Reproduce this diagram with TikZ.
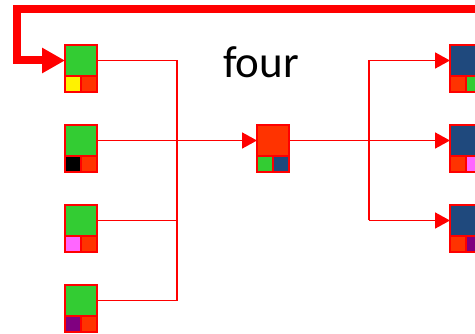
\documentclass[tikz,border=0pt]{standalone}
\usepackage{fontspec}
\setmainfont{Carlito}
\usetikzlibrary{arrows.meta}
\definecolor{cgreen}{HTML}{33CC33}
\definecolor{corange}{HTML}{FF3300}
\definecolor{cnavy}{HTML}{1F497D}
\definecolor{cpink}{HTML}{FF66FF}
\definecolor{cpurple}{HTML}{800080}
\definecolor{cred}{HTML}{FF0000}
\tikzset{
  bigbox/.style={draw=cred, line width=2pt, minimum width=32pt, minimum height=31pt, inner sep=0pt, outer sep=0pt},
  smallbox/.style={draw=cred, line width=2pt, minimum width=16pt, minimum height=16pt, inner sep=0pt, outer sep=0pt},
  wire/.style={draw=cred, line width=1.8pt},
  arr/.style={-{Triangle[length=15pt,width=16pt]}},
  feedback/.style={draw=cred, line width=8pt, -{Triangle[length=23pt,width=24pt]}},
  lbl/.style={font=\fontsize{45}{52}\selectfont, inner sep=0pt, anchor=base}
}
\newcommand\blk[6]{%
  \node[bigbox, fill=#4] (#1) at (#2+16, #3+15.5) {};
  \node[smallbox, fill=#5] (#1l) at (#2+8, #3+39) {};
  \node[smallbox, fill=#6] (#1r) at (#2+24, #3+39) {};
}
\begin{document}
\begin{tikzpicture}[x=1pt, y=-1pt]
\clip (0,0) rectangle (475,334);
\fill[white] (0,0) rectangle (475,334);
% left blocks
\blk{a1}{65}{45}{cgreen}{yellow}{corange}
\blk{a2}{65}{125}{cgreen}{black}{corange}
\blk{a3}{65}{205}{cgreen}{cpink}{corange}
\blk{a4}{65}{285}{cgreen}{cpurple}{corange}
% middle block
\blk{m}{257}{125}{corange}{cgreen}{cnavy}
% right blocks
\blk{b1}{450}{45}{cnavy}{corange}{cgreen}
\blk{b2}{450}{125}{cnavy}{corange}{cpink}
\blk{b3}{450}{205}{cnavy}{corange}{cpurple}
% label
\node[lbl] (t) at (261, 78) {four};
% bus coordinates
\coordinate (bl) at (177,0);
\coordinate (br) at (369,0);
\coordinate (fb) at (485,9.5);
\coordinate (fc) at (17,9.5);
% left connectors
\draw[wire] (a1.east) -| (bl |- a4.east) -- (a4.east);
\draw[wire] (a3.east) -- (a3.east -| bl);
\draw[wire, arr] (a2.east) -- (m.west);
% right connectors
\draw[wire, arr] (m.east) -- (b2.west);
\draw[wire, arr] (br |- b3.west) |- (b1.west);
\draw[wire, arr] (br |- b3.west) -- (b3.west);
% feedback
\draw[feedback] (fb) -- (fc) |- (a1.west);
\end{tikzpicture}
\end{document}
